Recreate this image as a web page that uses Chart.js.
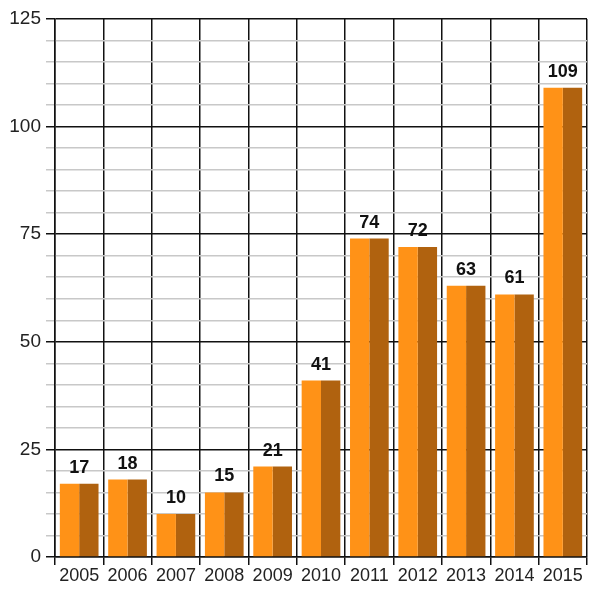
<!DOCTYPE html>
<html>
<head>
<meta charset="utf-8">
<script src="https://cdn.jsdelivr.net/npm/chart.js@4/dist/chart.umd.min.js"></script>
<style>
  html, body { margin: 0; padding: 0; background: #fff; }
  #wrap { width: 604px; height: 590px; }
</style>
</head>
<body>
<div id="wrap"><canvas id="chart" width="604" height="590"></canvas></div>
<script>
// данные по годам
const years = ["2005", "2006", "2007", "2008", "2009", "2010", "2011", "2012", "2013", "2014", "2015"];
const counts = [17, 18, 10, 15, 21, 41, 74, 72, 63, 61, 109];

const lightOrange = "#ff9217";
const darkOrange = "#b0620f";
const fontFamily = "'Liberation Sans', Arial, sans-serif";

// подписи значений над столбцами
const valueLabels = {
  id: "valueLabels",
  afterDatasetsDraw(chart) {
    const ctx = chart.ctx;
    const left = chart.getDatasetMeta(0).data;
    const right = chart.getDatasetMeta(1).data;
    ctx.save();
    ctx.font = "bold 18px " + fontFamily;
    ctx.fillStyle = "#111";
    ctx.textAlign = "center";
    ctx.textBaseline = "alphabetic";
    counts.forEach((v, i) => {
      const x = (left[i].x + right[i].x) / 2;
      ctx.fillText(String(v), x, left[i].y - 11);
    });
    ctx.restore();
  }
};

const isMajor = (c) => c.tick && c.tick.value % 25 === 0;

new Chart(document.getElementById("chart"), {
  type: "bar",
  data: {
    labels: years,
    datasets: [
      { data: counts, backgroundColor: lightOrange, borderWidth: 0 },
      { data: counts, backgroundColor: darkOrange, borderWidth: 0 }
    ]
  },
  options: {
    responsive: false,
    animation: false,
    layout: { padding: { top: 19, right: 17, left: 0, bottom: 0 } },
    datasets: { bar: { categoryPercentage: 0.8, barPercentage: 1.0 } },
    plugins: {
      legend: { display: false },
      tooltip: { enabled: false }
    },
    scales: {
      x: {
        offset: true,
        grid: {
          offset: true,
          color: "#111",
          lineWidth: 1.5,
          tickLength: 8,
          tickColor: "#111"
        },
        border: { color: "#111", width: 1.5 },
        ticks: {
          color: "#222",
          font: { family: fontFamily, size: 18 },
          padding: 0,
          maxRotation: 0,
          autoSkip: false
        },
        afterFit(scale) { scale.height = 33; }
      },
      y: {
        min: 0,
        max: 125,
        grid: {
          color: (c) => (isMajor(c) ? "#111" : "#c8c8c8"),
          lineWidth: 1.5,
          tickLength: 9,
          tickColor: (c) => (isMajor(c) ? "#111" : "#c8c8c8")
        },
        border: { color: "#111", width: 1.5 },
        ticks: {
          stepSize: 5,
          autoSkip: false,
          color: "#222",
          font: { family: fontFamily, size: 19 },
          padding: 5,
          callback: (v) => (v % 25 === 0 ? v : "")
        },
        afterFit(scale) { scale.width = 55; }
      }
    }
  },
  plugins: [valueLabels]
});
</script>
</body>
</html>
